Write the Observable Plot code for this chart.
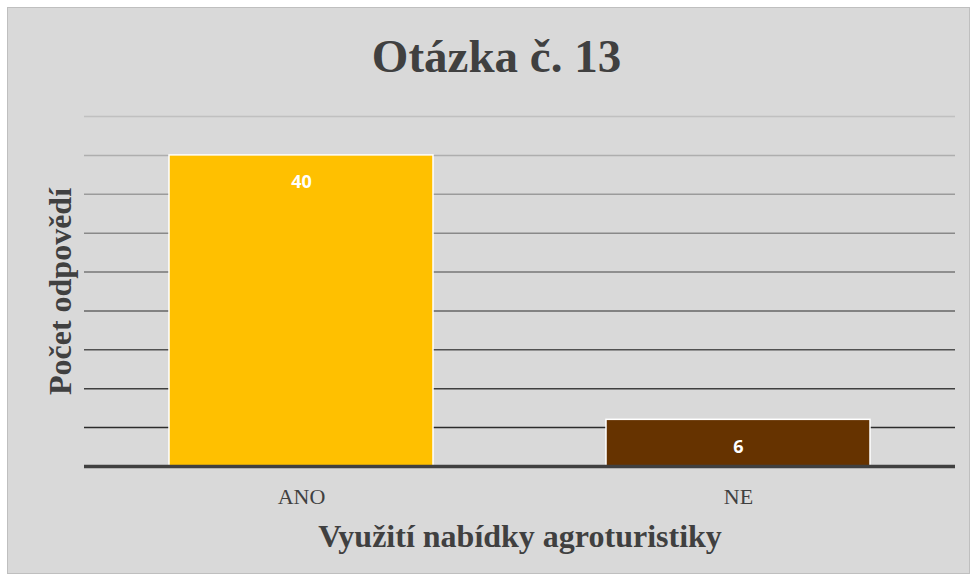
<!DOCTYPE html>
<html>
<head>
<meta charset="utf-8">
<script src="https://cdn.jsdelivr.net/npm/d3@7"></script>
<script src="https://cdn.jsdelivr.net/npm/@observablehq/plot@0.6"></script>
<style>
  html, body { margin: 0; padding: 0; background: #ffffff; }
  #wrap { position: relative; width: 973px; height: 580px; overflow: hidden; }
  #box { position: absolute; left: 7px; top: 7px; width: 961px; height: 565px;
         background: #d9d9d9; border: 1px solid #bfbfbf; }
  #title { position: absolute; left: 0; top: 28px; width: 993px; text-align: center;
           font-family: "Liberation Serif", "Times New Roman", serif; font-weight: bold;
           font-size: 47px; line-height: 56px; color: #404040; }
  #chart { position: absolute; left: 0; top: 0; }
</style>
</head>
<body>
<div id="wrap">
  <div id="box"></div>
  <div id="title">Otázka č. 13</div>
  <div id="chart"></div>
</div>
<script>
const categories = ["ANO", "NE"];
const values = [40, 6];
const barColors = ["#ffc000", "#663300"];
const gridTicks = [5, 10, 15, 20, 25, 30, 35, 40, 45];
const yLabel = "Počet odpovědí";
const xLabel = "Využití nabídky agroturistiky";

const data = categories.map((c, i) => ({category: c, value: values[i], color: barColors[i]}));
const gridColor = d3.interpolateRgb("#1a1a1a", "#c0c0c0");

const plot = Plot.plot({
  width: 973,
  height: 580,
  marginLeft: 84,
  marginRight: 18,
  marginTop: 116,
  marginBottom: 114,
  style: {background: "transparent", fontFamily: "Liberation Serif, Times New Roman, serif", color: "#404040"},
  x: {domain: categories, paddingInner: 0.396, paddingOuter: 0.1945, label: null},
  y: {domain: [0, 45], axis: null},
  marks: [
    Plot.ruleY(gridTicks, {stroke: d => gridColor(d / 45), strokeWidth: 1.5}),
    Plot.barY(data, {x: "category", y: "value", fill: d => d.color, stroke: "#ffffff", strokeWidth: 1.5}),
    Plot.ruleY([0], {stroke: "#404040", strokeWidth: 3.5}),
    Plot.text(data, {x: "category", y: "value", text: d => String(d.value), dy: 27,
      fill: "#ffffff", fontWeight: "bold", fontSize: 18,
      fontFamily: "Open Sans, Liberation Sans, sans-serif"}),
    Plot.axisX({tickSize: 0, tickPadding: 22, fontSize: 22, fill: "#404040", label: null}),
    Plot.text([yLabel], {frameAnchor: "left", textAnchor: "middle", lineAnchor: "middle",
      dx: -24, rotate: -90, fontSize: 32, fontWeight: "bold", fill: "#404040"}),
    Plot.text([xLabel], {frameAnchor: "bottom", textAnchor: "middle", lineAnchor: "middle",
      dy: 70, fontSize: 32, fontWeight: "bold", fill: "#404040"})
  ]
});
document.getElementById("chart").appendChild(plot);
</script>
</body>
</html>
